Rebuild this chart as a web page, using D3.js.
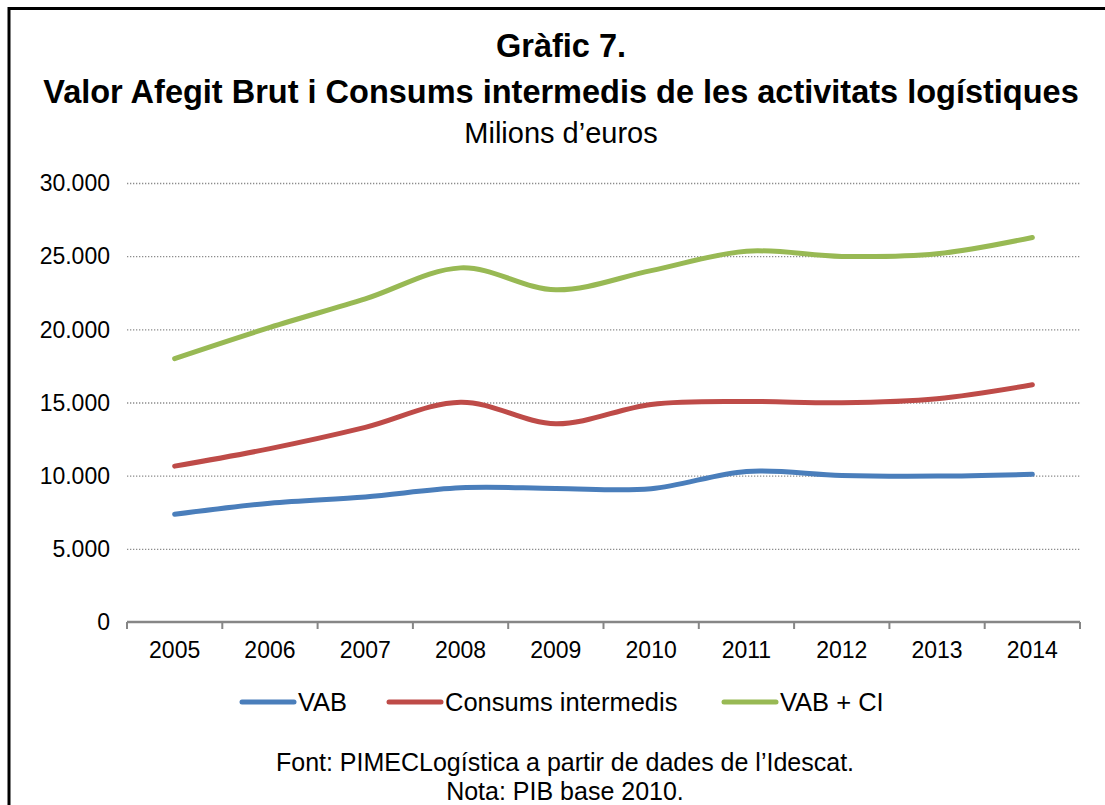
<!DOCTYPE html>
<html>
<head>
<meta charset="utf-8">
<script src="https://cdn.jsdelivr.net/npm/d3@7"></script>
<style>
    body { margin: 0; background: #fff; }
    svg { display: block; font-family: "Liberation Sans", Arial, sans-serif; }
</style>
</head>
<body>
<svg id="chart" width="1105" height="805"></svg>
<script>
'use strict';

/* global d3 */

var years = ["2005", "2006", "2007", "2008", "2009", "2010", "2011", "2012", "2013", "2014"];
var vab = [7360, 8120, 8550, 9170, 9130, 9110, 10290, 10010, 9970, 10090];
var consums = [10650, 11850, 13300, 15020, 13550, 14870, 15070, 14980, 15260, 16210];
var vabCi = [18000, 20130, 22080, 24200, 22700, 24010, 25340, 24980, 25160, 26280];
var yTicks = [0, 5000, 10000, 15000, 20000, 25000, 30000];

var seriesNames = ["VAB", "Consums intermedis", "VAB + CI"];
var seriesColors = ["#4A7EBB", "#BE4B48", "#98B954"];

var series = [vab, consums, vabCi].map(function (values, i) {
    return {
        name: seriesNames[i],
        color: seriesColors[i],
        values: values.map(function (v, j) {
            return {year: years[j], value: v};
        })
    };
});

var svg = d3.select("#chart");

// outer frame, open to the right and bottom like the cropped original
svg.append("rect")
    .attr("x", 9)
    .attr("y", 8.5)
    .attr("width", 1110)
    .attr("height", 820)
    .style("fill", "none")
    .style("stroke", "#000")
    .style("stroke-width", 3);

var margin = {left: 127, right: 1080, top: 183, bottom: 622};

var x = d3.scaleBand()
    .domain(years)
    .range([margin.left, margin.right]);

var y = d3.scaleLinear()
    .domain([0, 30000])
    .range([margin.bottom, margin.top]);

function fmt(v) {
    return d3.format(",")(v).replace(/,/g, ".");
}

// gridlines
svg.append("g")
    .selectAll("line")
    .data(yTicks.filter(function (d) { return d > 0; }))
    .enter()
    .append("line")
    .attr("x1", margin.left)
    .attr("x2", margin.right)
    .attr("y1", function (d) { return y(d) + 0.5; })
    .attr("y2", function (d) { return y(d) + 0.5; })
    .style("stroke", "#8c8c8c")
    .style("stroke-width", 1.3)
    .style("stroke-dasharray", "1.3,1.7");

// y labels
svg.append("g")
    .selectAll("text")
    .data(yTicks)
    .enter()
    .append("text")
    .attr("x", 110)
    .attr("y", function (d) { return y(d); })
    .attr("dy", "0.36em")
    .style("text-anchor", "end")
    .style("font-size", "23px")
    .text(fmt);

// x axis line + ticks at the category borders
var gx = svg.append("g");
gx.append("line")
    .attr("x1", margin.left)
    .attr("x2", margin.right)
    .attr("y1", margin.bottom)
    .attr("y2", margin.bottom)
    .style("stroke", "#868686")
    .style("stroke-width", 2.5);

var borders = years.map(function (d) { return x(d); }).concat([margin.right]);
gx.selectAll("line.tick")
    .data(borders)
    .enter()
    .append("line")
    .attr("class", "tick")
    .attr("x1", function (d) { return d; })
    .attr("x2", function (d) { return d; })
    .attr("y1", margin.bottom)
    .attr("y2", margin.bottom + 7)
    .style("stroke", "#868686")
    .style("stroke-width", 2);

gx.selectAll("text")
    .data(years)
    .enter()
    .append("text")
    .attr("x", function (d) { return x(d) + x.bandwidth() / 2; })
    .attr("y", 658)
    .style("text-anchor", "middle")
    .style("font-size", "23px")
    .text(function (d) { return d; });

// the lines, smoothed like the spreadsheet original
var line = d3.line()
    .x(function (d) { return x(d.year) + x.bandwidth() / 2; })
    .y(function (d) { return y(d.value); })
    .curve(d3.curveCatmullRom.alpha(0));

svg.append("g")
    .selectAll("path")
    .data(series)
    .enter()
    .append("path")
    .attr("d", function (d) { return line(d.values); })
    .style("fill", "none")
    .style("stroke", function (d) { return d.color; })
    .style("stroke-width", 5)
    .style("stroke-linecap", "round")
    .style("stroke-linejoin", "round");

// titles
var titles = [
    {text: "Gràfic 7.", y: 57, size: 32.5, weight: "bold"},
    {text: "Valor Afegit Brut i Consums intermedis de les activitats logístiques", y: 103, size: 32.5, weight: "bold"},
    {text: "Milions d\u2019euros", y: 143, size: 29, weight: "normal"}
];
svg.append("g")
    .selectAll("text")
    .data(titles)
    .enter()
    .append("text")
    .attr("x", 561)
    .attr("y", function (d) { return d.y; })
    .style("text-anchor", "middle")
    .style("font-size", function (d) { return d.size + "px"; })
    .style("font-weight", function (d) { return d.weight; })
    .text(function (d) { return d.text; });

// legend
var legendX = [240, 387, 722];
var gLegend = svg.append("g")
    .selectAll("g")
    .data(series)
    .enter()
    .append("g")
    .attr("transform", function (d, i) { return "translate(" + legendX[i] + ",702)"; });

gLegend.append("line")
    .attr("x1", 2)
    .attr("x2", 54)
    .style("stroke", function (d) { return d.color; })
    .style("stroke-width", 5)
    .style("stroke-linecap", "round");

gLegend.append("text")
    .attr("x", 58)
    .attr("dy", "0.36em")
    .style("font-size", "25.5px")
    .text(function (d) { return d.name; });

// footnotes
svg.append("g")
    .selectAll("text")
    .data(["Font: PIMECLogística a partir de dades de l\u2019Idescat.", "Nota: PIB base 2010."])
    .enter()
    .append("text")
    .attr("x", 565)
    .attr("y", function (d, i) { return 771 + i * 29; })
    .style("text-anchor", "middle")
    .style("font-size", "25px")
    .text(function (d) { return d; });
</script>
</body>
</html>
